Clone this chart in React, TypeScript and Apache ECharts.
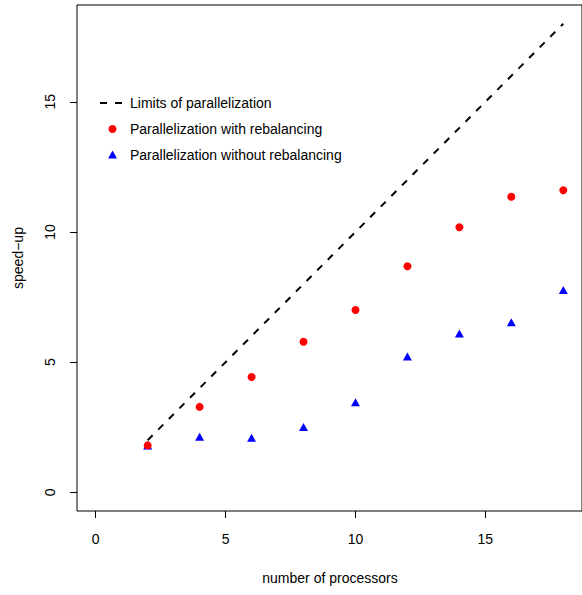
import React, { useEffect, useRef } from "react";
import * as echarts from "echarts";

const processors = [2, 4, 6, 8, 10, 12, 14, 16, 18];
const withRebalancing = [1.8, 3.28, 4.43, 5.78, 7.0, 8.68, 10.18, 11.35, 11.6];
const withoutRebalancing = [1.8, 2.13, 2.09, 2.51, 3.46, 5.22, 6.1, 6.53, 7.77];
const limitX = [2, 18];
const limitY = [2, 18];
const tickValues = [0, 5, 10, 15];
const seriesNames = [
  "Limits of parallelization",
  "Parallelization with rebalancing",
  "Parallelization without rebalancing",
];
const xTitle = "number of processors";
const yTitle = "speed\u2212up";

const FONT = "'Liberation Sans', Arial, Helvetica, sans-serif";

export default function App() {
  const ref = useRef<HTMLDivElement>(null);
  useEffect(() => {
    document.body.style.margin = "0";
    const chart = echarts.init(ref.current!, null, { renderer: "svg" });
    const axisCommon = {
      type: "value",
      min: -0.72,
      max: 18.72,
      splitLine: { show: false },
      axisLine: { show: false, onZero: false },
      axisTick: {
        show: true,
        inside: false,
        length: 7,
        customValues: tickValues,
        lineStyle: { color: "#000", width: 1 },
      },
    };
    chart.setOption({
      animation: false,
      backgroundColor: "#fff",
      textStyle: { fontFamily: FONT },
      grid: {
        left: 77,
        top: 5,
        width: 505,
        height: 506,
        show: true,
        borderColor: "#000",
        borderWidth: 1,
        backgroundColor: "transparent",
      },
      xAxis: {
        ...axisCommon,
        position: "bottom",
        axisLabel: {
          customValues: tickValues,
          margin: 21,
          fontSize: 14,
          color: "#000",
          fontFamily: FONT,
        },
      },
      yAxis: {
        ...axisCommon,
        position: "left",
        axisLabel: {
          customValues: tickValues,
          margin: 20,
          rotate: 90,
          fontSize: 14,
          color: "#000",
          fontFamily: FONT,
        },
      },
      series: [
        {
          name: seriesNames[0],
          type: "line",
          data: limitX.map((x, i) => [x, limitY[i]]),
          showSymbol: false,
          symbol: "none",
          lineStyle: { color: "#000", width: 2, type: [7, 8], opacity: 1 },
          z: 1,
        },
        {
          name: seriesNames[2],
          type: "scatter",
          data: processors.map((x, i) => [x, withoutRebalancing[i]]),
          symbol: "triangle",
          symbolSize: [9, 8],
          itemStyle: { color: "#0000FF", opacity: 1 },
          z: 2,
        },
        {
          name: seriesNames[1],
          type: "scatter",
          data: processors.map((x, i) => [x, withRebalancing[i]]),
          symbol: "circle",
          symbolSize: 8,
          itemStyle: { color: "#FF0000", opacity: 1 },
          z: 3,
        },
      ],
      graphic: [
        {
          type: "line",
          shape: { x1: 100, y1: 103, x2: 122, y2: 103 },
          style: { stroke: "#000", lineWidth: 2, lineDash: [7, 8] },
        },
        {
          type: "circle",
          shape: { cx: 112.5, cy: 129, r: 4 },
          style: { fill: "#FF0000" },
        },
        {
          type: "polygon",
          shape: { points: [[112.5, 150.5], [117, 158.5], [108, 158.5]] },
          style: { fill: "#0000FF" },
        },
        ...seriesNames.map((n, i) => ({
          type: "text",
          x: 130,
          y: 103 + i * 26,
          style: {
            text: n,
            fontSize: 14,
            fontFamily: FONT,
            fill: "#000",
            textVerticalAlign: "middle",
            textAlign: "left",
          },
        })),
        {
          type: "text",
          x: 330,
          y: 578,
          style: {
            text: xTitle,
            fontSize: 14,
            fontFamily: FONT,
            fill: "#000",
            textAlign: "center",
            textVerticalAlign: "middle",
          },
        },
        {
          type: "text",
          x: 18,
          y: 258,
          rotation: Math.PI / 2,
          style: {
            text: yTitle,
            fontSize: 14,
            fontFamily: FONT,
            fill: "#000",
            textAlign: "center",
            textVerticalAlign: "middle",
          },
        },
      ],
    });
    return () => chart.dispose();
  }, []);
  return <div ref={ref} style={{ width: 582, height: 595 }} />;
}
